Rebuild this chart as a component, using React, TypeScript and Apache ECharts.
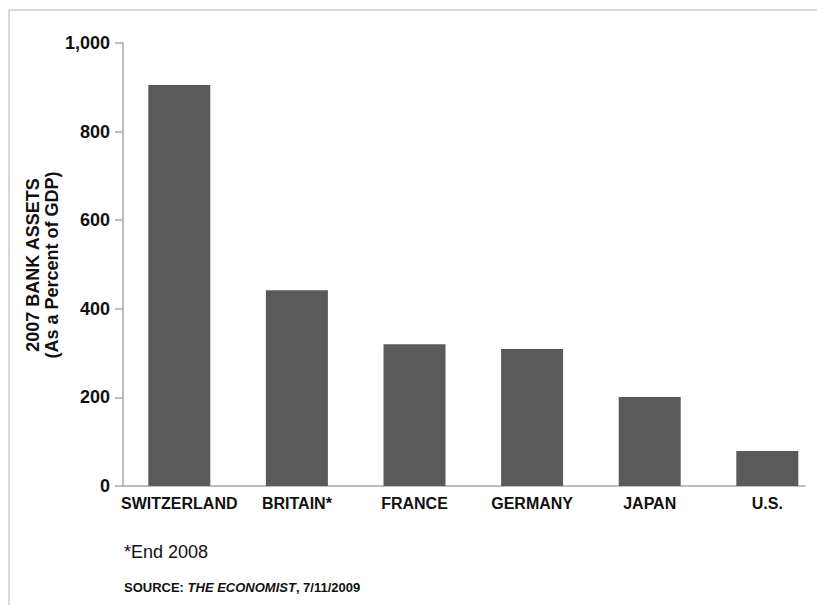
import React, { useEffect, useRef } from "react";
import * as echarts from "echarts";

const categories = ["SWITZERLAND", "BRITAIN*", "FRANCE", "GERMANY", "JAPAN", "U.S."];
const bankAssets = [905, 442, 320, 309, 201, 79];
const yTicks = [0, 200, 400, 600, 800, 1000];

const FONT = "'Liberation Sans', Arial, Helvetica, sans-serif";
const TEXT = "#111111";
const AXIS = "#a8a8a8";
const CANVAS_W = 840;

export default function App() {
  const ref = useRef<HTMLDivElement>(null);

  useEffect(() => {
    if (!ref.current) return;
    const chart = echarts.init(ref.current, undefined, { renderer: "svg" });
    const yMin = yTicks[0];
    const yMax = yTicks[yTicks.length - 1];
    const yInterval = yTicks[1] - yTicks[0];

    chart.setOption({
      animation: false,
      backgroundColor: "#ffffff",
      textStyle: { fontFamily: FONT },
      grid: [
        { left: 123, right: CANVAS_W - 805, top: 43, bottom: 119 },
        { left: 120.5, right: CANVAS_W - 826.1, top: 43, bottom: 119 },
      ],
      xAxis: [
        {
          type: "category",
          gridIndex: 0,
          data: categories,
          axisLine: { show: true, lineStyle: { color: AXIS, width: 1.5 } },
          axisTick: { show: false },
          axisLabel: { show: false },
          splitLine: { show: false },
        },
        {
          type: "category",
          gridIndex: 1,
          data: categories,
          axisLine: { show: false },
          axisTick: { show: false },
          axisLabel: {
            show: true,
            margin: 9,
            color: TEXT,
            fontFamily: FONT,
            fontWeight: "bold",
            fontSize: 16,
            interval: 0,
          },
          splitLine: { show: false },
        },
      ],
      yAxis: [
        {
          type: "value",
          gridIndex: 0,
          min: yMin,
          max: yMax,
          interval: yInterval,
          axisLine: { show: true, lineStyle: { color: AXIS, width: 1.5 } },
          axisTick: { show: true, length: 8, lineStyle: { color: AXIS, width: 1.5 } },
          axisLabel: {
            margin: 13,
            color: TEXT,
            fontFamily: FONT,
            fontWeight: "bold",
            fontSize: 18,
            formatter: (v: number) => v.toLocaleString("en-US"),
          },
          splitLine: { show: false },
        },
        {
          type: "value",
          gridIndex: 1,
          min: yMin,
          max: yMax,
          interval: yInterval,
          show: false,
          splitLine: { show: false },
        },
      ],
      series: [
        {
          type: "bar",
          xAxisIndex: 1,
          yAxisIndex: 1,
          data: bankAssets,
          barWidth: 62,
          itemStyle: { color: "#5a5a5a" },
          z: 1,
        },
      ],
      graphic: [
        {
          type: "line",
          shape: { x1: 9, y1: 10, x2: 817, y2: 10 },
          style: { stroke: "#cfcfcf", lineWidth: 1.6 },
          silent: true,
        },
        {
          type: "line",
          shape: { x1: 9, y1: 10, x2: 9, y2: 605 },
          style: { stroke: "#cfcfcf", lineWidth: 1.6 },
          silent: true,
        },
        {
          type: "text",
          x: 42.5,
          y: 265,
          rotation: Math.PI / 2,
          style: {
            text: "2007 BANK ASSETS\n(As a Percent of GDP)",
            fill: TEXT,
            font: `bold 18px ${FONT}`,
            align: "center",
            verticalAlign: "middle",
            lineHeight: 19,
          },
          silent: true,
        },
        {
          type: "text",
          left: 124,
          top: 543,
          style: {
            text: "*End 2008",
            fill: TEXT,
            font: `normal 18px ${FONT}`,
          },
          silent: true,
        },
        {
          type: "text",
          left: 124,
          top: 581,
          style: {
            text: "{b|SOURCE: }{i|THE ECONOMIST}{b|, 7/11/2009}",
            rich: {
              b: { fill: TEXT, fontFamily: FONT, fontWeight: "bold", fontSize: 13 },
              i: {
                fill: TEXT,
                fontFamily: FONT,
                fontWeight: "bold",
                fontStyle: "italic",
                fontSize: 13,
              },
            },
          },
          silent: true,
        },
      ],
    });

    return () => chart.dispose();
  }, []);

  return (
    <div
      ref={ref}
      style={{ position: "fixed", left: 0, top: 0, width: CANVAS_W, height: 605, overflow: "hidden" }}
    />
  );
}
